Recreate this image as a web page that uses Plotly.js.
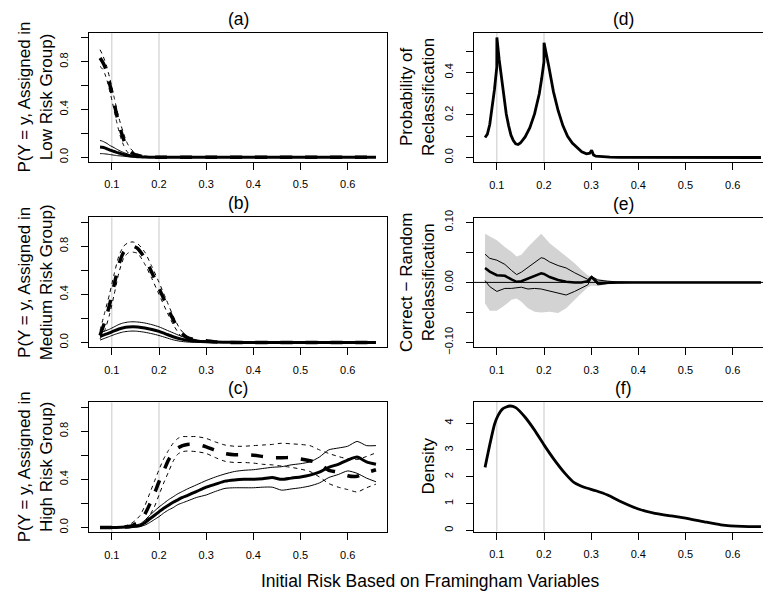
<!DOCTYPE html>
<html><head><meta charset="utf-8">
<script src="https://cdn.plot.ly/plotly-3.0.1.min.js"></script>
<style>html,body{margin:0;padding:0;background:#fff}#chart{width:763px;height:595px}</style>
</head><body><div id="chart"></div><script>
// ---------- data ----------
const cutoffs = [0.1, 0.2];
const xTickVals = [0.1, 0.2, 0.3, 0.4, 0.5, 0.6];
const xTickText = ['0.1', '0.2', '0.3', '0.4', '0.5', '0.6'];
const pTickVals = [0, 0.2, 0.4, 0.6, 0.8, 1.0];
const pTickText = ['0.0', '', '0.4', '', '0.8', ''];
const dTickVals = [0, 0.1, 0.2, 0.3, 0.4, 0.5];
const dTickText = ['0.0', '', '0.2', '', '0.4', ''];
const eTickVals = [-0.10, -0.05, 0, 0.05, 0.10];
const eTickText = ['\u22120.10', '', '0.00', '', '0.10'];
const fTickVals = [0, 1, 2, 3, 4];
const fTickText = ['0', '1', '2', '3', '4'];

// (a) low risk group
const aX = [0.075,0.08,0.085,0.09,0.095,0.10,0.105,0.11,0.115,0.12,0.125,0.13,0.135,0.14,0.15,0.16,0.17,0.18,0.20,0.25,0.30,0.35,0.40,0.45,0.50,0.55,0.60,0.66];
const aDashHi  = [0.90,0.86,0.81,0.75,0.67,0.59,0.50,0.41,0.33,0.26,0.20,0.14,0.10,0.07,0.035,0.02,0.01,0.005,0,0,0,0,0,0,0,0,0,0];
const aDashMid = [0.83,0.80,0.76,0.70,0.62,0.54,0.45,0.36,0.28,0.21,0.15,0.10,0.07,0.045,0.02,0.01,0.004,0.001,0,0,0,0,0,0,0,0,0,0];
const aDashLo  = [0.76,0.74,0.70,0.64,0.56,0.48,0.39,0.30,0.22,0.15,0.10,0.06,0.035,0.02,0.005,0.002,0,0,0,0,0,0,0,0,0,0,0,0];
const aSolHi   = [0.14,0.135,0.125,0.115,0.10,0.09,0.08,0.068,0.058,0.048,0.04,0.032,0.025,0.02,0.011,0.006,0.003,0.001,0,0,0,0,0,0,0,0,0,0];
const aSolMid  = [0.085,0.083,0.078,0.07,0.062,0.055,0.048,0.041,0.035,0.029,0.023,0.018,0.014,0.011,0.006,0.003,0.001,0,0,0,0,0,0,0,0,0,0,0];
const aSolLo   = [0.03,0.03,0.028,0.026,0.023,0.02,0.017,0.014,0.012,0.01,0.008,0.006,0.004,0.003,0.001,0,0,0,0,0,0,0,0,0,0,0,0,0];

// (b) medium risk group
const bX = [0.075,0.085,0.095,0.105,0.115,0.125,0.135,0.145,0.155,0.17,0.185,0.20,0.215,0.23,0.245,0.26,0.28,0.30,0.32,0.35,0.40,0.45,0.50,0.55,0.60,0.66];
const bDashHi  = [0.10,0.25,0.40,0.57,0.72,0.80,0.83,0.835,0.82,0.75,0.63,0.50,0.36,0.22,0.11,0.05,0.02,0.01,0.005,0,0,0,0,0,0,0];
const bDashMid = [0.06,0.17,0.31,0.48,0.65,0.75,0.79,0.80,0.78,0.70,0.58,0.45,0.32,0.19,0.09,0.04,0.02,0.015,0.005,0,0,0,0,0,0,0];
const bDashLo  = [0.03,0.10,0.23,0.40,0.58,0.70,0.745,0.75,0.74,0.65,0.53,0.40,0.27,0.15,0.06,0.02,0.01,0,0,0,0,0,0,0,0,0];
const bSolHi   = [0.08,0.095,0.11,0.13,0.15,0.163,0.17,0.172,0.17,0.162,0.148,0.13,0.105,0.08,0.055,0.035,0.02,0.012,0.006,0.002,0,0,0,0,0,0];
const bSolMid  = [0.05,0.065,0.08,0.097,0.112,0.123,0.128,0.13,0.128,0.12,0.108,0.092,0.07,0.048,0.03,0.018,0.01,0.006,0.003,0.001,0,0,0,0,0,0];
const bSolLo   = [0.02,0.035,0.05,0.065,0.078,0.088,0.093,0.095,0.093,0.085,0.073,0.058,0.04,0.022,0.01,0.004,0.001,0,0,0,0,0,0,0,0,0];

// (c) high risk group
const cX = [0.075,0.10,0.12,0.14,0.15,0.16,0.17,0.18,0.19,0.20,0.21,0.22,0.23,0.24,0.25,0.26,0.28,0.30,0.32,0.34,0.36,0.38,0.40,0.42,0.44,0.46,0.48,0.50,0.52,0.54,0.56,0.58,0.60,0.62,0.64,0.66];
const cDashHi  = [0,0,0.005,0.03,0.06,0.10,0.18,0.28,0.38,0.48,0.57,0.64,0.70,0.74,0.755,0.755,0.755,0.74,0.71,0.685,0.675,0.675,0.68,0.685,0.69,0.70,0.695,0.69,0.68,0.645,0.615,0.59,0.57,0.565,0.59,0.62];
const cDashMid = [0,0,0.002,0.01,0.03,0.05,0.11,0.19,0.28,0.38,0.47,0.56,0.62,0.66,0.68,0.69,0.69,0.67,0.64,0.615,0.605,0.605,0.60,0.59,0.58,0.58,0.58,0.57,0.555,0.53,0.475,0.46,0.43,0.425,0.455,0.48];
const cDashLo  = [0,0,0,0.003,0.01,0.02,0.05,0.10,0.17,0.27,0.37,0.46,0.55,0.61,0.63,0.635,0.63,0.615,0.58,0.55,0.54,0.54,0.535,0.525,0.52,0.51,0.50,0.485,0.465,0.42,0.365,0.335,0.315,0.295,0.33,0.36];
const cSolHi   = [0,0,0.004,0.012,0.02,0.03,0.06,0.10,0.135,0.17,0.20,0.23,0.255,0.28,0.30,0.32,0.355,0.39,0.42,0.445,0.465,0.475,0.48,0.49,0.50,0.505,0.52,0.53,0.545,0.585,0.645,0.66,0.675,0.715,0.68,0.68];
const cSolMid  = [0,0,0.002,0.006,0.01,0.015,0.04,0.07,0.10,0.13,0.16,0.185,0.21,0.23,0.25,0.265,0.30,0.335,0.36,0.385,0.395,0.40,0.40,0.405,0.415,0.40,0.41,0.42,0.435,0.46,0.50,0.525,0.56,0.585,0.545,0.525];
const cSolLo   = [0,0,0.001,0.003,0.005,0.008,0.02,0.04,0.065,0.09,0.12,0.145,0.165,0.19,0.205,0.22,0.25,0.27,0.30,0.325,0.33,0.33,0.33,0.335,0.335,0.31,0.32,0.33,0.345,0.37,0.415,0.44,0.47,0.45,0.41,0.38];

// (d) probability of reclassification
const dX = [0.075,0.08,0.085,0.09,0.095,0.0999,0.1001,0.105,0.11,0.115,0.12,0.125,0.13,0.135,0.14,0.145,0.15,0.16,0.17,0.18,0.19,0.195,0.1999,0.2001,0.205,0.21,0.22,0.23,0.24,0.25,0.26,0.27,0.28,0.29,0.297,0.301,0.305,0.31,0.32,0.34,0.36,0.40,0.50,0.60,0.66];
const dY = [0.094,0.11,0.155,0.23,0.32,0.425,0.565,0.46,0.37,0.28,0.205,0.15,0.105,0.08,0.064,0.061,0.068,0.097,0.14,0.205,0.30,0.37,0.45,0.54,0.475,0.43,0.31,0.22,0.15,0.10,0.068,0.045,0.027,0.017,0.02,0.034,0.012,0.006,0.004,0.002,0.001,0.0005,0,0,0];

// (e) correct - random reclassification
const eX = [0.075,0.085,0.10,0.117,0.131,0.142,0.152,0.166,0.180,0.194,0.20,0.212,0.23,0.247,0.265,0.279,0.293,0.301,0.314,0.335,0.356,0.40,0.50,0.60,0.66];
const eBandHi = [0.081,0.077,0.070,0.059,0.051,0.043,0.046,0.059,0.070,0.081,0.076,0.065,0.054,0.043,0.032,0.021,0.012,0.010,0.006,0.003,0.0015,0.0005,0,0,0];
const eBandLo = [-0.035,-0.047,-0.047,-0.038,-0.029,-0.027,-0.032,-0.043,-0.049,-0.050,-0.050,-0.049,-0.051,-0.043,-0.029,-0.018,-0.008,-0.005,-0.006,-0.003,-0.0015,-0.0005,0,0,0];
const eHi  = [0.047,0.040,0.037,0.030,0.020,0.013,0.017,0.025,0.033,0.041,0.040,0.034,0.028,0.024,0.016,0.010,0.005,0.010,0.004,0.002,0.0008,0,0,0,0];
const eMid = [0.024,0.018,0.012,0.011,0.005,0.001,0.002,0.006,0.011,0.015,0.014,0.009,0.004,0.001,0,0,0.002,0.009,-0.001,0,0,0,0,0,0];
const eLo  = [0.003,-0.007,-0.015,-0.010,-0.010,-0.009,-0.008,-0.011,-0.010,-0.011,-0.012,-0.014,-0.018,-0.021,-0.015,-0.010,-0.004,0.008,-0.004,-0.002,-0.0008,0,0,0,0];

// (f) density
const fX = [0.075,0.085,0.095,0.103,0.113,0.1275,0.14,0.16,0.18,0.20,0.22,0.245,0.265,0.285,0.31,0.335,0.36,0.40,0.435,0.47,0.50,0.54,0.575,0.62,0.66];
const fY = [2.35,3.19,3.95,4.30,4.54,4.64,4.58,4.22,3.74,3.19,2.68,2.12,1.77,1.61,1.48,1.32,1.10,0.80,0.64,0.54,0.46,0.32,0.21,0.15,0.14];

// ---------- layout helpers ----------
const W = 763, H = 595;
const FONT = 'Liberation Sans, Arial, Helvetica, sans-serif';
const XR_FULL = [0.0516, 0.6834];
const XR_CUT = [0.0516, 0.6643];   // right column is cut off by the picture's edge
const panels = [
  {l:89,  r:387, t:33,    b:162,   xr:XR_FULL, cut:false, yr:[-0.04,1.04],    tv:pTickVals, tt:pTickText, title:'(a)', ytitle:'P(Y = y, Assigned in<br>Low Risk Group)', ytx:35},
  {l:89,  r:387, t:217.3, b:347.3, xr:XR_FULL, cut:false, yr:[-0.04,1.04],    tv:pTickVals, tt:pTickText, title:'(b)', ytitle:'P(Y = y, Assigned in<br>Medium Risk Group)', ytx:35},
  {l:89,  r:387, t:402.3, b:532.3, xr:XR_FULL, cut:false, yr:[-0.04,1.04],    tv:pTickVals, tt:pTickText, title:'(c)', ytitle:'P(Y = y, Assigned in<br>High Risk Group)', ytx:35},
  {l:474, r:763, t:32.5,  b:162.3, xr:XR_CUT,  cut:true,  yr:[-0.0226,0.588], tv:dTickVals, tt:dTickText, title:'(d)', ytitle:'Probability of<br>Reclassification', ytx:417.5},
  {l:474, r:763, t:217.5, b:347.3, xr:XR_CUT,  cut:true,  yr:[-0.108,0.108],  tv:eTickVals, tt:eTickText, title:'(e)', ytitle:'Correct \u2212 Random<br>Reclassification', ytx:417.5},
  {l:474, r:763, t:401.7, b:531.5, xr:XR_CUT,  cut:true,  yr:[-0.04,4.80],    tv:fTickVals, tt:fTickText, title:'(f)', ytitle:'Density', ytx:429}
];
const layout = {
  width: W, height: H, margin: {l:0, r:0, t:0, b:0},
  paper_bgcolor: '#fff', plot_bgcolor: '#fff', showlegend: false,
  font: {family: FONT, color: '#000'},
  annotations: [], shapes: []
};
panels.forEach((p, i) => {
  const n = i + 1;
  layout['xaxis' + n] = {
    domain: [p.l / W, p.r / W], anchor: 'y' + n, range: p.xr,
    tickvals: xTickVals, ticktext: xTickText, ticks: 'outside', ticklen: 7, tickwidth: 1, tickcolor: '#000',
    ticklabelstandoff: 5,
    showline: true, mirror: true, linecolor: '#000', linewidth: 1, showgrid: false, zeroline: false,
    tickfont: {family: FONT, size: 11, color: '#000'}
  };
  layout['yaxis' + n] = {
    domain: [1 - p.b / H, 1 - p.t / H], anchor: 'x' + n, range: p.yr,
    tickvals: p.tv, ticktext: p.tt, ticks: 'outside', ticklen: 7, tickwidth: 1, tickcolor: '#000',
    tickangle: -90, ticklabelstandoff: 9,
    showline: true, mirror: !p.cut, linecolor: '#000', linewidth: 1, showgrid: false, zeroline: false,
    tickfont: {family: FONT, size: 11, color: '#000'}
  };
  layout.annotations.push({
    text: p.title, xref: 'paper', yref: 'paper', x: (p.l + (p.cut ? 772 : p.r)) / 2 / W, y: 1 - (p.t - 14) / H,
    xanchor: 'center', yanchor: 'middle', showarrow: false, font: {family: FONT, size: 17.5, color: '#000'}
  });
  layout.annotations.push({
    text: p.ytitle, xref: 'paper', yref: 'paper', x: p.ytx / W, y: 1 - (p.t + p.b) / 2 / H,
    xanchor: 'center', yanchor: 'middle', textangle: -90, showarrow: false,
    font: {family: FONT, size: 17, color: '#000'}
  });
  if (n !== 5) {
    cutoffs.forEach(c => layout.shapes.push({
      type: 'line', xref: 'x' + n, yref: 'y' + n + ' domain', x0: c, x1: c, y0: 0, y1: 1,
      line: {color: '#c8c8c8', width: 1}, layer: 'below'
    }));
  }
});
layout.shapes.push({type: 'line', xref: 'x5 domain', yref: 'y5', x0: 0, x1: 1, y0: 0, y1: 0,
  line: {color: '#000', width: 1}, layer: 'above'});
layout.annotations.push({
  text: 'Initial Risk Based on Framingham Variables', xref: 'paper', yref: 'paper',
  x: 430 / W, y: 1 - 581 / H, xanchor: 'center', yanchor: 'middle', showarrow: false,
  font: {family: FONT, size: 17.5, color: '#000'}
});

// ---------- traces ----------
function ln(x, y, n, w, dash, shape) {
  return {x: x, y: y, xaxis: 'x' + n, yaxis: 'y' + n, type: 'scatter', mode: 'lines',
    line: {color: '#000', width: w, dash: dash || 'solid', shape: shape || 'spline', smoothing: 0.6},
    hoverinfo: 'skip'};
}
const THIN_DASH = '4px,4px', THICK_DASH = '12px,13px';
const traces = [];
[[aX, aDashHi, aDashMid, aDashLo, aSolHi, aSolMid, aSolLo, 1],
 [bX, bDashHi, bDashMid, bDashLo, bSolHi, bSolMid, bSolLo, 2],
 [cX, cDashHi, cDashMid, cDashLo, cSolHi, cSolMid, cSolLo, 3]].forEach(s => {
  const [x, dh, dm, dl, sh, sm, sl, n] = s;
  traces.push(ln(x, sh, n, 1), ln(x, sl, n, 1), ln(x, sm, n, 3));
  traces.push(ln(x, dh, n, 1, THIN_DASH), ln(x, dl, n, 1, THIN_DASH), ln(x, dm, n, 3.5, THICK_DASH));
});
traces.push(ln(dX, dY, 4, 2.8, 'solid', 'linear'));
traces.push({x: eX.concat(eX.slice().reverse()), y: eBandHi.concat(eBandLo.slice().reverse()),
  xaxis: 'x5', yaxis: 'y5', type: 'scatter', mode: 'lines', fill: 'toself',
  fillcolor: '#d3d3d3', line: {width: 0, color: '#d3d3d3'}, hoverinfo: 'skip'});
traces.push(ln(eX, eHi, 5, 1, 'solid', 'linear'), ln(eX, eLo, 5, 1, 'solid', 'linear'), ln(eX, eMid, 5, 2.5, 'solid', 'linear'));
traces.push(ln(fX, fY, 6, 2.8));

Plotly.newPlot('chart', traces, layout, {staticPlot: true, displayModeBar: false});
</script></body></html>
